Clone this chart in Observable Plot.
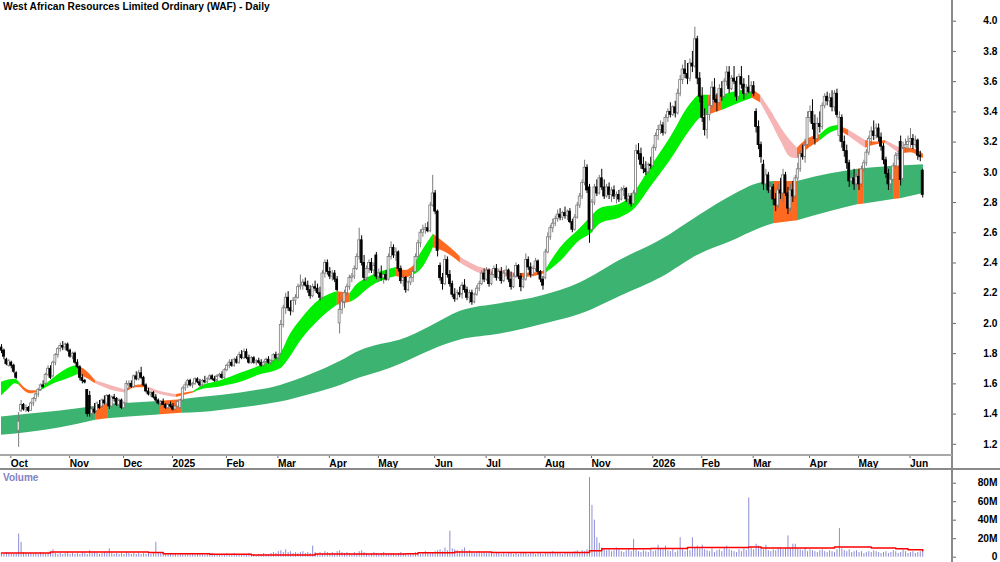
<!DOCTYPE html>
<html>
<head>
<meta charset="utf-8">
<script src="https://cdn.jsdelivr.net/npm/d3@7"></script>
<script src="https://cdn.jsdelivr.net/npm/@observablehq/plot@0.6"></script>
<style>
  html, body { margin: 0; padding: 0; background: #fff; }
  #wrap { position: relative; width: 1000px; height: 562px; overflow: hidden; font-family: 'Liberation Sans', Arial, sans-serif; }
  #wrap svg { position: absolute; left: 0; }
  .title { position: absolute; left: 3px; top: 1px; font-weight: bold; font-size: 10.2px; color: #000; z-index: 5; }
  .vlabel { position: absolute; left: 3px; top: 472px; font-weight: bold; font-size: 10px; color: #8282c4; z-index: 5; }
  .line { position: absolute; z-index: 4; }
</style>
</head>
<body>
<div id="wrap">
  <div class="title">West African Resources Limited Ordinary (WAF) - Daily</div>
  <div class="vlabel">Volume</div>
</div>
<script>
// ---------- daily bars (index = trading day) ----------
const open = [
1.84,1.82,1.76,1.72,1.74,1.72,1.67,1.29,1.42,1.46,
1.43,1.44,1.42,1.47,1.50,1.53,1.56,1.59,1.60,1.66,
1.70,1.65,1.74,1.79,1.83,1.85,1.84,1.86,1.82,1.78,
1.80,1.74,1.71,1.64,1.62,1.56,1.52,1.40,1.43,1.42,
1.46,1.45,1.49,1.47,1.52,1.45,1.51,1.50,1.46,1.49,
1.44,1.47,1.59,1.60,1.58,1.65,1.63,1.67,1.64,1.59,
1.55,1.53,1.54,1.51,1.49,1.47,1.48,1.46,1.44,1.46,
1.45,1.43,1.45,1.44,1.49,1.57,1.59,1.62,1.59,1.60,
1.63,1.61,1.59,1.62,1.61,1.63,1.65,1.63,1.62,1.65,
1.66,1.64,1.69,1.72,1.74,1.72,1.76,1.74,1.79,1.77,
1.81,1.77,1.74,1.77,1.74,1.75,1.74,1.72,1.74,1.76,
1.74,1.75,1.79,1.77,1.80,1.99,2.10,2.17,2.10,2.08,
2.15,2.17,2.24,2.25,2.27,2.25,2.22,2.18,2.24,2.23,
2.20,2.17,2.33,2.40,2.34,2.31,2.33,2.29,2.00,2.09,
2.14,2.20,2.24,2.30,2.31,2.36,2.44,2.55,2.40,2.30,
2.36,2.40,2.35,2.45,2.31,2.33,2.30,2.32,2.29,2.44,
2.50,2.45,2.47,2.36,2.28,2.30,2.22,2.27,2.30,2.34,
2.44,2.53,2.60,2.62,2.63,2.61,2.78,2.86,2.74,2.38,
2.30,2.26,2.42,2.32,2.26,2.19,2.16,2.20,2.19,2.25,
2.22,2.17,2.20,2.14,2.19,2.23,2.26,2.33,2.29,2.35,
2.26,2.32,2.36,2.30,2.34,2.28,2.33,2.35,2.29,2.24,
2.31,2.38,2.31,2.24,2.29,2.42,2.37,2.32,2.36,2.41,
2.34,2.29,2.30,2.47,2.57,2.63,2.66,2.69,2.72,2.70,
2.73,2.71,2.74,2.67,2.62,2.70,2.78,2.84,2.93,3.03,
2.90,2.62,2.80,2.90,2.86,2.96,2.90,2.84,2.90,2.85,
2.88,2.84,2.85,2.82,2.88,2.89,2.82,2.84,2.79,2.86,
3.14,3.12,3.05,3.02,3.00,3.05,3.04,3.16,3.24,3.28,
3.31,3.26,3.36,3.40,3.38,3.43,3.39,3.52,3.61,3.68,
3.65,3.62,3.72,3.70,3.88,3.62,3.50,3.36,3.28,3.38,
3.44,3.56,3.48,3.46,3.55,3.50,3.60,3.66,3.55,3.62,
3.60,3.50,3.63,3.58,3.52,3.56,3.53,3.57,3.40,3.30,
3.18,3.05,2.92,2.98,2.88,2.90,2.82,2.78,2.88,2.86,
2.98,2.86,2.76,2.88,2.84,2.96,3.02,3.12,3.10,3.18,
3.36,3.40,3.32,3.22,3.32,3.30,3.44,3.50,3.47,3.49,
3.43,3.52,3.24,3.36,3.20,3.14,3.06,2.94,2.96,2.92,
2.97,2.92,3.02,3.06,3.13,3.22,3.27,3.24,3.29,3.23,
3.17,3.08,2.99,2.92,2.95,3.04,3.11,3.20,2.95,3.16,
3.18,3.20,3.22,3.18,3.21,3.11,3.01];

const high = [
1.86,1.83,1.77,1.76,1.75,1.73,1.68,1.41,1.49,1.47,
1.46,1.45,1.48,1.51,1.54,1.57,1.60,1.62,1.67,1.72,
1.72,1.75,1.80,1.84,1.87,1.88,1.87,1.87,1.83,1.81,
1.81,1.76,1.72,1.66,1.63,1.56,1.55,1.45,1.47,1.48,
1.49,1.50,1.52,1.53,1.53,1.52,1.53,1.51,1.50,1.50,
1.48,1.62,1.62,1.62,1.66,1.68,1.69,1.71,1.65,1.60,
1.57,1.55,1.55,1.53,1.50,1.49,1.50,1.47,1.47,1.48,
1.47,1.46,1.49,1.50,1.58,1.61,1.63,1.63,1.61,1.64,
1.64,1.63,1.63,1.65,1.64,1.66,1.66,1.65,1.66,1.67,
1.68,1.70,1.73,1.76,1.76,1.77,1.78,1.81,1.82,1.83,
1.83,1.79,1.78,1.78,1.76,1.77,1.76,1.75,1.77,1.78,
1.76,1.80,1.81,1.80,2.02,2.12,2.20,2.21,2.15,2.17,
2.19,2.26,2.32,2.29,2.30,2.28,2.25,2.26,2.28,2.26,
2.24,2.35,2.42,2.42,2.37,2.35,2.35,2.31,2.20,2.16,
2.22,2.26,2.32,2.33,2.38,2.46,2.63,2.58,2.45,2.38,
2.42,2.43,2.40,2.47,2.36,2.38,2.34,2.35,2.46,2.54,
2.52,2.50,2.48,2.38,2.32,2.31,2.28,2.32,2.36,2.46,
2.55,2.62,2.65,2.66,2.67,2.80,2.98,2.88,2.75,2.40,
2.33,2.45,2.44,2.35,2.28,2.23,2.22,2.24,2.27,2.29,
2.24,2.22,2.22,2.20,2.25,2.28,2.35,2.36,2.37,2.36,
2.34,2.38,2.39,2.36,2.37,2.35,2.38,2.36,2.34,2.33,
2.40,2.39,2.33,2.31,2.46,2.44,2.40,2.38,2.43,2.42,
2.35,2.31,2.49,2.60,2.65,2.69,2.71,2.75,2.76,2.74,
2.77,2.75,2.76,2.69,2.72,2.80,2.86,2.95,3.08,3.05,
2.92,2.82,2.92,2.95,2.98,3.02,2.95,2.92,2.93,2.90,
2.91,2.87,2.88,2.90,2.91,2.90,2.86,2.86,2.88,3.18,
3.19,3.16,3.10,3.07,3.06,3.10,3.18,3.26,3.31,3.34,
3.33,3.38,3.42,3.46,3.44,3.47,3.55,3.64,3.71,3.74,
3.72,3.75,3.80,3.96,3.90,3.66,3.56,3.42,3.40,3.48,
3.60,3.62,3.52,3.58,3.60,3.62,3.70,3.70,3.64,3.70,
3.63,3.65,3.70,3.62,3.58,3.64,3.60,3.60,3.42,3.34,
3.20,3.08,3.02,3.00,2.93,2.92,2.86,2.92,2.96,3.02,
3.00,2.90,2.92,2.94,2.98,3.06,3.14,3.18,3.22,3.40,
3.44,3.48,3.38,3.36,3.40,3.46,3.52,3.53,3.52,3.54,
3.54,3.55,3.40,3.38,3.24,3.18,3.08,3.00,3.02,2.99,
3.02,3.04,3.08,3.15,3.24,3.30,3.34,3.32,3.32,3.26,
3.19,3.10,3.02,2.98,3.06,3.13,3.14,3.24,3.20,3.22,
3.24,3.29,3.25,3.24,3.22,3.14,3.02];

const low = [
1.80,1.76,1.72,1.71,1.70,1.67,1.63,1.18,1.41,1.42,
1.41,1.41,1.42,1.45,1.48,1.51,1.55,1.57,1.59,1.65,
1.63,1.64,1.72,1.77,1.81,1.82,1.82,1.81,1.77,1.76,
1.73,1.70,1.62,1.60,1.60,1.38,1.38,1.37,1.40,1.41,
1.43,1.44,1.46,1.46,1.43,1.44,1.48,1.45,1.45,1.43,
1.43,1.47,1.56,1.57,1.57,1.62,1.62,1.63,1.58,1.54,
1.52,1.51,1.50,1.48,1.46,1.45,1.46,1.43,1.43,1.44,
1.42,1.42,1.44,1.43,1.48,1.55,1.57,1.58,1.57,1.59,
1.60,1.58,1.58,1.60,1.60,1.62,1.62,1.61,1.61,1.64,
1.63,1.63,1.68,1.70,1.71,1.71,1.73,1.73,1.76,1.76,
1.76,1.73,1.73,1.73,1.72,1.73,1.71,1.71,1.73,1.73,
1.72,1.74,1.76,1.75,1.79,1.97,2.06,2.08,2.05,2.07,
2.12,2.16,2.22,2.22,2.24,2.20,2.16,2.17,2.21,2.19,
2.15,2.16,2.30,2.32,2.29,2.28,2.27,2.21,1.93,2.06,
2.10,2.18,2.22,2.27,2.29,2.35,2.42,2.38,2.28,2.28,
2.33,2.33,2.31,2.29,2.27,2.28,2.26,2.28,2.28,2.42,
2.43,2.41,2.34,2.26,2.24,2.20,2.21,2.25,2.27,2.33,
2.43,2.50,2.57,2.59,2.60,2.60,2.77,2.72,2.44,2.28,
2.22,2.25,2.30,2.24,2.17,2.14,2.15,2.17,2.16,2.20,
2.15,2.13,2.12,2.13,2.18,2.21,2.25,2.27,2.28,2.24,
2.25,2.30,2.28,2.29,2.26,2.27,2.31,2.27,2.22,2.23,
2.30,2.29,2.21,2.23,2.28,2.35,2.30,2.31,2.34,2.32,
2.27,2.22,2.29,2.46,2.55,2.60,2.64,2.67,2.68,2.68,
2.69,2.68,2.66,2.60,2.61,2.69,2.76,2.82,2.91,2.86,
2.53,2.60,2.78,2.84,2.85,2.88,2.82,2.83,2.82,2.80,
2.82,2.79,2.80,2.81,2.84,2.80,2.78,2.77,2.78,2.85,
3.08,3.02,2.99,2.98,2.99,3.02,3.03,3.14,3.21,3.25,
3.24,3.25,3.33,3.36,3.37,3.36,3.38,3.50,3.58,3.62,
3.58,3.60,3.66,3.69,3.58,3.46,3.33,3.24,3.22,3.34,
3.42,3.46,3.40,3.44,3.47,3.49,3.57,3.52,3.54,3.58,
3.47,3.48,3.55,3.48,3.50,3.52,3.50,3.50,3.26,3.15,
3.06,2.88,2.90,2.86,2.82,2.78,2.74,2.76,2.82,2.80,
2.84,2.72,2.74,2.80,2.82,2.94,3.00,3.08,3.06,3.16,
3.33,3.28,3.18,3.20,3.26,3.28,3.42,3.44,3.43,3.40,
3.40,3.36,3.20,3.16,3.10,3.02,2.90,2.90,2.88,2.90,
2.88,2.90,3.00,3.04,3.11,3.18,3.21,3.22,3.20,3.14,
3.05,2.96,2.88,2.86,2.94,3.02,3.08,2.91,2.94,3.13,
3.14,3.16,3.15,3.16,3.08,3.07,2.83];

const close = [
1.82,1.78,1.73,1.75,1.72,1.68,1.64,1.35,1.46,1.43,
1.44,1.42,1.47,1.50,1.53,1.56,1.59,1.58,1.66,1.70,
1.64,1.74,1.79,1.83,1.85,1.84,1.86,1.82,1.78,1.80,
1.74,1.71,1.64,1.62,1.61,1.40,1.40,1.43,1.41,1.47,
1.44,1.49,1.47,1.52,1.45,1.51,1.50,1.46,1.49,1.44,
1.47,1.60,1.60,1.58,1.65,1.63,1.67,1.64,1.59,1.55,
1.53,1.54,1.51,1.49,1.47,1.48,1.46,1.44,1.46,1.45,
1.43,1.45,1.48,1.49,1.57,1.59,1.62,1.59,1.60,1.63,
1.61,1.59,1.62,1.61,1.63,1.65,1.63,1.62,1.65,1.66,
1.64,1.69,1.72,1.74,1.72,1.76,1.74,1.79,1.77,1.81,
1.77,1.74,1.77,1.74,1.75,1.74,1.72,1.74,1.76,1.74,
1.75,1.79,1.77,1.79,1.99,2.10,2.17,2.10,2.08,2.15,
2.17,2.24,2.25,2.27,2.25,2.22,2.18,2.24,2.23,2.20,
2.17,2.33,2.40,2.34,2.31,2.33,2.29,2.22,2.09,2.14,
2.20,2.24,2.30,2.31,2.36,2.44,2.55,2.40,2.30,2.36,
2.40,2.35,2.38,2.31,2.33,2.30,2.32,2.29,2.44,2.50,
2.45,2.47,2.36,2.28,2.30,2.22,2.27,2.30,2.34,2.44,
2.53,2.60,2.62,2.63,2.61,2.78,2.86,2.74,2.48,2.30,
2.26,2.42,2.32,2.26,2.19,2.16,2.20,2.19,2.25,2.22,
2.17,2.20,2.14,2.19,2.23,2.26,2.33,2.29,2.35,2.26,
2.32,2.36,2.30,2.34,2.28,2.33,2.35,2.29,2.24,2.31,
2.38,2.31,2.24,2.29,2.42,2.37,2.32,2.36,2.41,2.34,
2.29,2.25,2.47,2.57,2.63,2.66,2.69,2.72,2.70,2.73,
2.71,2.74,2.67,2.62,2.70,2.78,2.84,2.93,3.03,2.88,
2.62,2.80,2.90,2.86,2.96,2.90,2.84,2.90,2.85,2.88,
2.84,2.85,2.82,2.88,2.89,2.82,2.84,2.79,2.86,3.14,
3.12,3.05,3.02,3.00,3.05,3.04,3.16,3.24,3.28,3.31,
3.26,3.36,3.40,3.38,3.43,3.39,3.52,3.61,3.68,3.65,
3.62,3.72,3.70,3.88,3.62,3.50,3.36,3.28,3.38,3.44,
3.56,3.48,3.46,3.55,3.50,3.60,3.66,3.55,3.62,3.60,
3.50,3.63,3.58,3.52,3.56,3.53,3.57,3.52,3.30,3.18,
3.10,2.92,2.98,2.88,2.90,2.82,2.78,2.88,2.86,2.98,
2.86,2.76,2.88,2.84,2.96,3.02,3.12,3.10,3.18,3.36,
3.40,3.32,3.22,3.32,3.30,3.44,3.50,3.47,3.49,3.43,
3.52,3.38,3.36,3.20,3.14,3.06,2.94,2.96,2.92,2.97,
2.92,3.02,3.06,3.13,3.22,3.27,3.24,3.29,3.23,3.17,
3.08,2.99,2.92,2.95,3.04,3.11,3.12,2.95,3.16,3.18,
3.20,3.22,3.18,3.21,3.11,3.10,2.85];

// volume, millions of shares
const volume = [
4,3,5,4,3,3,4,25,16,5,4,3,4,3,4,3,5,4,3,4,
5,8,4,3,4,3,4,5,3,4,3,4,3,5,4,3,7,4,5,4,
3,4,5,4,9,4,3,4,3,4,3,5,4,3,4,3,4,3,4,3,
4,3,4,16,5,4,3,4,3,3,4,3,2,3,4,3,3,4,3,3,
3,4,3,2,3,3,4,3,3,2,3,3,4,3,3,4,3,2,3,3,
3,4,3,3,2,3,3,4,3,3,4,5,4,6,7,5,8,5,6,4,
5,4,5,6,4,5,4,12,5,4,5,4,6,5,4,5,4,6,7,5,
4,5,4,3,5,4,6,7,5,4,3,4,5,4,3,4,5,4,3,4,
4,3,4,5,4,3,4,3,4,5,4,3,5,6,5,4,5,6,7,8,
6,10,7,28,9,8,7,6,8,10,6,7,5,4,5,6,4,5,4,5,
4,3,4,5,3,4,3,4,5,3,4,3,4,5,4,3,4,5,3,4,
4,3,5,4,5,6,4,5,4,3,4,5,4,5,6,7,5,7,6,8,
86,56,40,21,15,10,9,7,8,6,7,10,8,6,5,7,9,6,19,8,
6,5,7,6,5,8,6,7,13,9,8,12,7,6,8,5,7,21,9,6,
8,7,21,10,12,9,13,8,7,6,9,5,7,8,6,10,12,8,7,6,
5,8,6,9,7,64,10,8,14,12,9,8,13,7,6,8,7,9,10,8,
9,23,10,14,14,9,8,7,10,6,8,7,6,5,7,8,6,5,7,6,
5,8,31,9,7,6,8,5,6,7,5,6,4,5,6,5,7,6,5,4,
5,6,4,5,7,6,4,5,8,6,4,5,6,4,5,6,7];

// volume average line (bar index, millions)
const volAvgIdx = [0,20,60,66,85,102,122,128,165,170,185,200,235,240,245,265,280,305,310,330,340,355,365,370,376];
const volAvgVal = [4.5,5.5,5,3.8,3.2,2.4,2.4,3.5,3.6,4.8,5.5,5.2,5,7,9,9.5,10.5,11,10,10,11,10,9,8,7];

// short-term MA ribbon (bar index, upper, lower, state: g=up, o=mixed, p=down)
const shortIdx = [0,2.9,5.7,7.3,11.8,15.1,20,24.9,28.2,31,34.3,38.4,44.5,50.6,54.7,58,64.9,71.4,78.4,81.2,89.4,97.6,105.7,113.9,118,122,130.2,137.1,142.4,143.7,150.6,158.8,161.2,164.9,168.2,171,176.3,183.3,187.3,191.4,195.5,203.7,211.8,220,222,228.2,236.3,240.4,244.5,252.7,258,264.9,273.1,281.2,285.3,288.6,294.3,301.6,306.5,309.8,313.9,318,322,324.9,328.2,334.3,338.4,341.6,345.7,352.7,356.7,360.8,366.9,371,376.3];
const shortHi = [1.61,1.625,1.63,1.61,1.555,1.555,1.62,1.68,1.71,1.72,1.69,1.62,1.59,1.56,1.59,1.595,1.55,1.53,1.55,1.58,1.62,1.67,1.72,1.80,1.93,2.02,2.16,2.21,2.20,2.23,2.31,2.36,2.37,2.35,2.38,2.46,2.59,2.50,2.44,2.40,2.37,2.35,2.33,2.34,2.35,2.50,2.63,2.70,2.76,2.79,2.86,3.03,3.23,3.45,3.51,3.51,3.51,3.54,3.55,3.51,3.41,3.30,3.21,3.16,3.21,3.25,3.30,3.31,3.28,3.21,3.20,3.21,3.16,3.16,3.12];
const shortLo = [1.52,1.565,1.60,1.59,1.535,1.545,1.59,1.62,1.64,1.66,1.64,1.60,1.56,1.54,1.575,1.575,1.53,1.51,1.54,1.56,1.58,1.61,1.66,1.70,1.78,1.88,2.03,2.12,2.14,2.15,2.24,2.30,2.31,2.30,2.32,2.35,2.50,2.45,2.40,2.36,2.33,2.31,2.30,2.32,2.33,2.41,2.55,2.59,2.66,2.70,2.75,2.90,3.08,3.28,3.36,3.38,3.41,3.46,3.49,3.46,3.34,3.21,3.10,3.09,3.14,3.21,3.26,3.28,3.24,3.16,3.18,3.19,3.12,3.13,3.09];
const shortState = ["g","g","g","o","o","g","g","g","g","o","o","p","p","o","o","p","p","o","g","g","g","g","g","g","g","g","g","o","g","g","g","g","o","o","g","g","o","o","p","p","p","p","o","o","g","g","g","g","g","g","g","g","g","g","g","o","g","g","o","p","p","p","p","o","o","g","g","o","p","o","o","p","o","o","o"];

// long-term MA ribbon (bar index, upper, lower, state: g=normal, o=price inside/below)
const longIdx = [0,11.8,24.1,38.4,43.3,60.8,64.9,73.5,81.2,97.6,113.9,126.1,138.4,146.5,154.7,162.9,175.1,187.3,203.7,220,236.3,252.7,269,285.3,297.6,309.8,315.1,324.9,338.4,349.4,352.2,364.1,366.9,376.3];
const longHi = [1.38,1.40,1.42,1.45,1.465,1.48,1.485,1.495,1.51,1.54,1.59,1.66,1.75,1.82,1.86,1.89,1.98,2.08,2.13,2.18,2.27,2.42,2.55,2.72,2.84,2.93,2.94,2.94,2.99,3.02,3.025,3.04,3.042,3.05];
const longLo = [1.26,1.28,1.31,1.36,1.37,1.39,1.395,1.405,1.41,1.44,1.48,1.53,1.59,1.64,1.68,1.73,1.82,1.89,1.93,1.99,2.06,2.18,2.30,2.46,2.54,2.63,2.66,2.68,2.74,2.785,2.79,2.82,2.825,2.86];
const longState = ["g","g","g","o","g","g","o","g","g","g","g","g","g","g","g","g","g","g","g","g","g","g","g","g","g","g","o","g","g","o","g","o","g","g"];

// axis ticks
const monthIdx = [3,27,49,69,91,112,133,153,176,197,221,240,265,285,306,329,349,370];
const monthLab = ["Oct","Nov","Dec","2025","Feb","Mar","Apr","May","Jun","Jul","Aug","Nov","2026","Feb","Mar","Apr","May","Jun"];
const priceTicks = [1.2,1.4,1.6,1.8,2.0,2.2,2.4,2.6,2.8,3.0,3.2,3.4,3.6,3.8,4.0];
const volTicks = [0,20,40,60,80];

// ---------- build tables ----------
const shortPal = {g: "#00ee00", o: "#ff6a20", p: "#f6b4b4"};
const longPal = {g: "#3cb371", o: "#ff6a20"};
// one area run per colour state; each run ends on the first point of the next run
function ribbon(idx, hi, lo, st, pal) {
  const out = [];
  let seg = 0, start = 0;
  for (let k = 1; k < idx.length; k++) {
    const last = k === idx.length - 1;
    if (st[k] !== st[start] || last) {
      for (let j = start; j <= k; j++) out.push({i: idx[j], hi: hi[j], lo: lo[j], seg, fill: pal[st[start]]});
      seg++;
      start = k;
    }
  }
  return out;
}
const shortRib = ribbon(shortIdx, shortHi, shortLo, shortState, shortPal);
const longRib = ribbon(longIdx, longHi, longLo, longState, longPal);
const bars = close.map((c, i) => ({i, o: open[i], h: high[i], l: low[i], c, up: c >= open[i]}));
const vols = volume.map((v, i) => ({i, v}));
const volAvg = volAvgIdx.map((i, k) => ({i, v: volAvgVal[k]}));

const xDomain = [-0.408, 388.16];
const font = {fontFamily: "'Liberation Sans', Arial, sans-serif", fontSize: "10.2px", fontWeight: "bold", background: "transparent", overflow: "visible"};

const price = Plot.plot({
  width: 1000, height: 470,
  marginTop: 0, marginBottom: 15, marginLeft: 0, marginRight: 48,
  x: {domain: xDomain, axis: null},
  y: {domain: [1.126, 4.137], axis: null},
  color: {type: "identity"},
  style: font,
  marks: [
    Plot.areaY(longRib, {x: "i", y1: "lo", y2: "hi", z: "seg", fill: "fill", curve: "monotone-x"}),
    Plot.areaY(shortRib, {x: "i", y1: "lo", y2: "hi", z: "seg", fill: "fill", curve: "monotone-x"}),
    Plot.ruleX(bars, {x: "i", y1: "l", y2: "h", stroke: d => d.up ? "#7a7a7a" : "#000", strokeWidth: 1}),
    Plot.rect(bars, {x1: d => d.i - 0.4, x2: d => d.i + 0.4, y1: "o", y2: "c",
      fill: d => d.up ? "#fff" : "#000", stroke: d => d.up ? "#7a7a7a" : "#000", strokeWidth: 0.8}),
    Plot.axisY(priceTicks, {anchor: "right", label: null, tickSize: 3, tickPadding: 42, textAnchor: "end",
      tickFormat: d => d.toFixed(1), stroke: "#666"}),
    Plot.axisX(monthIdx, {anchor: "bottom", label: null, tickSize: 3, tickPadding: 1, textAnchor: "start", dx: 2,
      tickFormat: d => monthLab[monthIdx.indexOf(d)], stroke: "#666"})
  ]
});
price.style.top = "0px";

const vol = Plot.plot({
  width: 1000, height: 92,
  marginTop: 0, marginBottom: 0, marginLeft: 0, marginRight: 48,
  x: {domain: xDomain, axis: null},
  y: {domain: [-5.73, 93.7], axis: null},
  style: font,
  marks: [
    Plot.ruleX(vols, {x: "i", y1: 0, y2: "v", stroke: "#8c8cd6", strokeWidth: 1}),
    Plot.line(volAvg, {x: "i", y: "v", stroke: "#ff0000", strokeWidth: 1.5, curve: "step-after"}),
    Plot.axisY(volTicks, {anchor: "right", label: null, tickSize: 3, tickPadding: 42, textAnchor: "end",
      tickFormat: d => d === 0 ? "0" : d + "M", stroke: "#666"})
  ]
});
vol.style.top = "470px";

const wrap = document.getElementById("wrap");
wrap.appendChild(price);
wrap.appendChild(vol);
function line(l, t, w, h, c) {
  const d = document.createElement("div");
  d.className = "line";
  Object.assign(d.style, {left: l + "px", top: t + "px", width: w + "px", height: h + "px", background: c});
  wrap.appendChild(d);
}
line(951, 0, 1.5, 562, "#8a8a8a");
line(0, 454, 952, 2, "#a8a8a8");
line(0, 468, 1000, 2, "#8a8a8a");
</script>
</body>
</html>
